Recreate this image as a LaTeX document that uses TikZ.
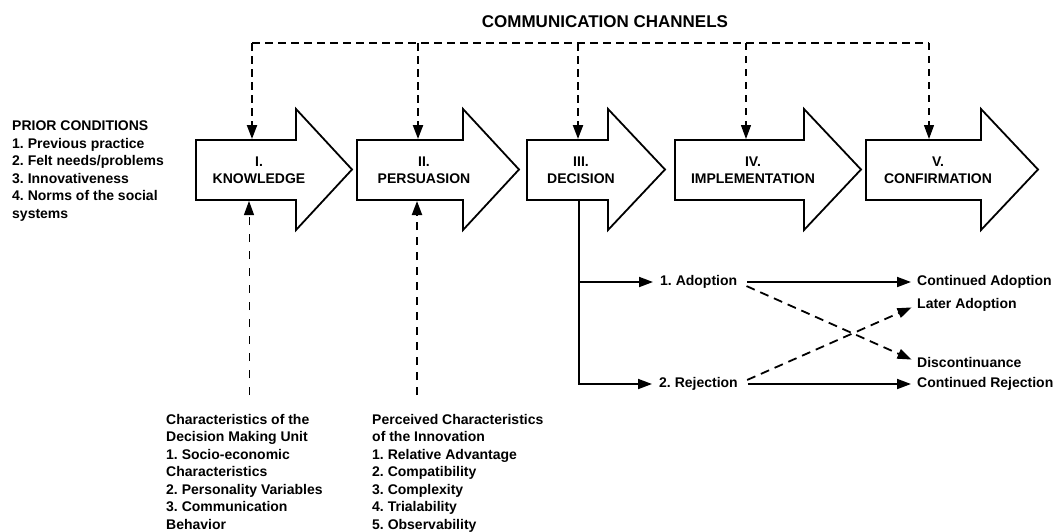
\documentclass[tikz,border=0pt]{standalone}
\usepackage{fontspec}
\setmainfont{Liberation Sans}
\usetikzlibrary{arrows.meta}
\begin{document}
\frenchspacing
\begin{tikzpicture}[x=1pt,y=-1pt,
  stage/.style={draw=black,line width=1.8pt,fill=white,line join=miter},
  lbl/.style={font=\fontsize{14}{17}\selectfont\bfseries,align=center,inner sep=0pt},
  txt/.style={font=\fontsize{14}{17.5}\selectfont\bfseries,align=left,inner sep=0pt,anchor=north west},
  rtxt/.style={font=\fontsize{14}{17}\selectfont\bfseries,inner sep=0pt,anchor=west},
  tip/.style={-{Triangle[length=14pt,width=10pt]}},
  chan/.style={line width=2.2pt,dash pattern=on 8pt off 5pt},
  chanthin/.style={line width=1.2pt,dash pattern=on 7pt off 6pt},
  infl/.style={line width=1pt,dash pattern=on 8pt off 9pt},
  inflthick/.style={line width=2pt,dash pattern=on 8pt off 7pt},
  flow/.style={line width=1.8pt},
  cross/.style={line width=1.8pt,dash pattern=on 9pt off 6pt}]
\useasboundingbox (0,0) rectangle (1058,531);

% title
\node[font=\fontsize{17}{20}\selectfont\bfseries,inner sep=0pt] (title) at (605,22) {COMMUNICATION CHANNELS};

% stage arrows
\draw[stage] (196,140) -- (296,140) -- (296,109) -- (352,169.5) -- (296,230) -- (296,200) -- (196,200) -- cycle;
\draw[stage] (357,140) -- (463,140) -- (463,109) -- (519,169.5) -- (463,230) -- (463,200) -- (357,200) -- cycle;
\draw[stage] (527,140) -- (608,140) -- (608,109) -- (665,169.5) -- (608,230) -- (608,200) -- (527,200) -- cycle;
\draw[stage] (675,140) -- (804,140) -- (804,109) -- (861,169.5) -- (804,230) -- (804,200) -- (675,200) -- cycle;
\draw[stage] (866,140) -- (981,140) -- (981,109) -- (1038,169.5) -- (981,230) -- (981,200) -- (866,200) -- cycle;

\node[lbl] (know) at (259,170) {I.\\KNOWLEDGE};
\node[lbl] (pers) at (424,170) {II.\\PERSUASION};
\node[lbl] (deci) at (581,170) {III.\\DECISION};
\node[lbl] (impl) at (753,170) {IV.\\IMPLEMENTATION};
\node[lbl] (conf) at (938,170) {V.\\CONFIRMATION};

% anchor points on the stage arrows
\coordinate (k-top) at (252,139);
\coordinate (p-top) at (418,139);
\coordinate (d-top) at (578,139);
\coordinate (i-top) at (746,139);
\coordinate (c-top) at (929,139);
\coordinate (k-bot) at (249,201);
\coordinate (p-bot) at (417,201);
\coordinate (d-bot) at (579,200);

% communication channels
\coordinate (ch1) at (252,43);
\coordinate (ch2) at (418,43);
\coordinate (ch3) at (578,43);
\coordinate (ch4) at (746,43);
\coordinate (ch5) at (929,43);
\draw[chan] (ch1) -- (ch5);
\draw[chan,tip] (ch1) -- (k-top);
\draw[chan,tip] (ch2) -- (p-top);
\draw[chan,tip] (ch3) -- (d-top);
\draw[chanthin,tip] (ch4) -- (i-top);
\draw[chanthin,tip] (ch5) -- (c-top);

% prior conditions
\node[txt] (prior) at (12,121) {PRIOR CONDITIONS\\1. Previous practice\\2. Felt needs/problems\\3. Innovativeness\\4. Norms of the social\\systems};

% characteristics
\node[txt] (dmu) at (166,414) {Characteristics of the\\Decision Making Unit\\1. Socio-economic\\Characteristics\\2. Personality Variables\\3. Communication\\Behavior};
\node[txt] (innov) at (372,414) {Perceived Characteristics\\of the Innovation\\1. Relative Advantage\\2. Compatibility\\3. Complexity\\4. Trialability\\5. Observability};
\coordinate (dmu-top) at (249,395);
\coordinate (innov-top) at (417,395);
\draw[infl,tip] (dmu-top) -- (k-bot);
\draw[inflthick,tip] (innov-top) -- (p-bot);

% decision outcomes
\node[rtxt] (adopt) at (660,282) {1. Adoption};
\node[rtxt] (reject) at (659,384) {2. Rejection};
\node[rtxt] (cadopt) at (917,282) {Continued Adoption};
\node[rtxt] (later) at (917,305) {Later Adoption};
\node[rtxt] (disc) at (917,362) {Discontinuance};
\node[rtxt] (crej) at (917,384) {Continued Rejection};

\draw[flow,tip,shorten >=7pt] (d-bot) |- (adopt.west);
\draw[flow,tip,shorten >=7pt] (d-bot) |- (reject.west);
\draw[flow,tip,shorten <=10pt,shorten >=6pt] (adopt.east) -- (cadopt.west);
\draw[flow,tip,shorten <=10pt,shorten >=6pt] (reject.east) -- (crej.west);
\draw[cross,tip,shorten <=10pt,shorten >=6pt] (adopt.east) -- (disc.west);
\draw[cross,tip,shorten <=10pt,shorten >=6pt] (reject.east) -- (later.west);
\end{tikzpicture}
\end{document}
